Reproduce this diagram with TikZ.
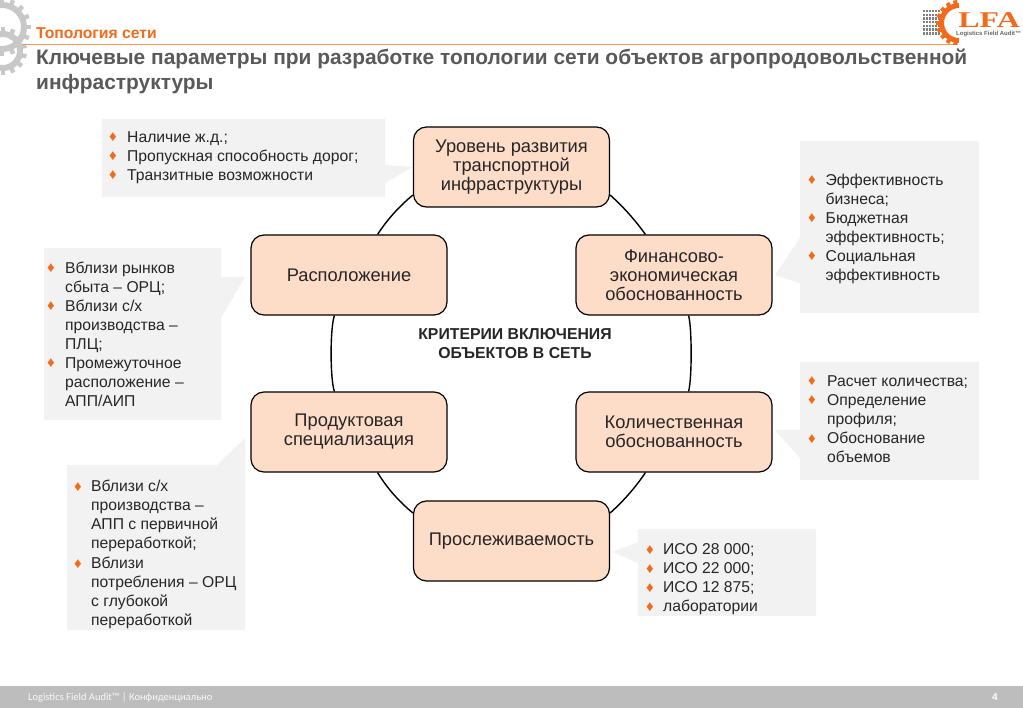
\documentclass[tikz,border=0pt]{standalone}
\usepackage{fontspec}
\setmainfont{Liberation Sans}
\newfontfamily\lfafont{Liberation Serif}
\newfontfamily\footfont{Carlito}
\definecolor{boxfill}{HTML}{FDDCC8}
\definecolor{callout}{HTML}{F2F2F2}
\definecolor{accent}{HTML}{F26A1B}
\definecolor{titlegray}{HTML}{595959}
\definecolor{geargray}{HTML}{C8C8C8}
\definecolor{barbg}{HTML}{BDBDBD}
\newcommand{\bul}{\textcolor{accent}{\fontsize{15}{15}\selectfont\char"2666}}
\tikzset{
  x=1pt,y=-1pt,
  critbox/.style={draw=black,line width=1.2pt,fill=boxfill,rounded corners=13pt,minimum width=196pt,minimum height=80pt,align=center,inner sep=0pt,font=\fontsize{18.3}{19}\selectfont,text=black!85},
  ringline/.style={draw=black,line width=1.4pt},
  calloutshape/.style={fill=callout,draw=none},
  bullettext/.style={anchor=north west,inner sep=0pt,align=left,font=\fontsize{15.7}{19}\selectfont,text=black!85},
}
\begin{document}
\begin{tikzpicture}
\useasboundingbox (0,0) rectangle (1023,708);
\fill[white] (0,0) rectangle (1023,708);
% gears
\begin{scope}
\clip (0,0) rectangle (1023,708);
\foreach \cx/\cy/\r/\n/\hole in {2/27/25/16/19, 3/51/20/14/14}{
  \fill[geargray,even odd rule] (\cx,\cy) circle (\r) (\cx,\cy) circle (\hole);
  \foreach \i in {1,...,\n}{
    \fill[geargray,rotate around={360/\n*\i:(\cx,\cy)}] (\cx-2.2,\cy-\r+1) rectangle (\cx+2.2,\cy-\r-4);
  }
}
\end{scope}
% header
\draw[accent!70,line width=0.8pt] (22,44) -- (958,44);
\node[anchor=base west,inner sep=0,font=\fontsize{15.7}{15.7}\selectfont\bfseries,text=accent] (sec) at (36,39) {Топология сети};
\node[anchor=north west,inner sep=0,align=left,font=\fontsize{20.9}{25}\selectfont\bfseries,text=titlegray] (ttl) at (36,49) {Ключевые параметры при разработке топологии сети объектов агропродовольственной\\инфраструктуры};
% LFA logo
\foreach \i in {0,...,5}{\foreach \j in {0,...,6}{
  \fill[black!50] (923+\i*2.9,10+\j*3.7) rectangle ++(2,2.4);
}}
\begin{scope}
\clip (930,0) rectangle (1023,45);
\draw[accent,line width=5pt] (959,5.5) arc (90:270:17.5pt);
\foreach \a in {10,30,...,170}{
  \fill[accent,rotate around={\a:(959,23)}] (957,0) rectangle (961,5);
}
\end{scope}
\node[anchor=base west,inner sep=0,xscale=1.42,transform shape,font=\fontsize{22.5}{22.5}\lfafont\bfseries,text=accent] (lfa) at (958,28) {LFA};
\node[anchor=base west,inner sep=0,font=\fontsize{6}{6}\selectfont\bfseries,text=black!60] (lfasub) at (956,35.5) {Logistics Field Audit™};
% callouts
\fill[calloutshape] (102,119) -- (385,119) -- (385,165) -- (413,167) -- (385,183) -- (385,197) -- (102,197) -- cycle;
\fill[calloutshape] (800,141) -- (979,141) -- (979,313) -- (800,313) -- (800,283) -- (775,275) -- (800,238) -- cycle;
\fill[calloutshape] (44,248) -- (221,248) -- (221,277) -- (245,277) -- (221,318) -- (221,420) -- (44,420) -- cycle;
\fill[calloutshape] (800,362) -- (979,362) -- (979,480) -- (800,480) -- (800,458) -- (775,430) -- (800,430) -- cycle;
\fill[calloutshape] (67,465) -- (217,465) -- (245,438) -- (245,630) -- (67,630) -- cycle;
\fill[calloutshape] (638,529) -- (816,529) -- (816,616) -- (638,616) -- (638,563) -- (613,552) -- (638,542) -- cycle;
% boxes
\node[critbox] (top) at (511.5,167) {Уровень развития\\транспортной\\инфраструктуры};
\node[critbox] (fin) at (674,275) {Финансово-\\экономическая\\обоснованность};
\node[critbox] (qty) at (674,432) {Количественная\\обоснованность};
\node[critbox] (trace) at (511.5,541) {Прослеживаемость};
\node[critbox] (prod) at (349,432) {Продуктовая\\специализация};
\node[critbox] (loc) at (349,275) {Расположение};
% ring
\draw[ringline] ([yshift=-28pt]top.east) .. controls (623,206.5) and (635,219.9) .. ([xshift=70pt]fin.north west);
\draw[ringline] ([xshift=-84pt]fin.south east) .. controls (692,328) and (692,379) .. ([xshift=-84pt]qty.north east);
\draw[ringline] ([xshift=70pt]qty.south west) .. controls (635,488.1) and (623,501.5) .. ([yshift=28pt]trace.east);
\draw[ringline] ([yshift=28pt]trace.west) .. controls (399,501.5) and (387,488.1) .. ([xshift=-70pt]prod.south east);
\draw[ringline] ([xshift=84pt]prod.north west) .. controls (330,379) and (330,328) .. ([xshift=84pt]loc.south west);
\draw[ringline] ([xshift=-70pt]loc.north east) .. controls (387,219.9) and (399,206.5) .. ([yshift=-28pt]top.west);
\node[align=center,inner sep=0,font=\fontsize{15.8}{19}\selectfont\bfseries,text=black!85] (centre) at (515,343.5) {КРИТЕРИИ ВКЛЮЧЕНИЯ\\ОБЪЕКТОВ В СЕТЬ};
% bullet texts: name / bullet x / text x / first baseline / text
\foreach \name/\bx/\tx/\ty/\txt in {
  a1/113/127/142/{Наличие ж.д.;},
  a2/113/127/161/{Пропускная способность дорог;},
  a3/113/127/180/{Транзитные возможности},
  b1/812/825.5/185/{Эффективность\\бизнеса;},
  b2/812/825.5/223/{Бюджетная\\эффективность;},
  b3/812/825.5/261/{Социальная\\эффективность},
  c1/51/65/273/{Вблизи рынков\\сбыта – ОРЦ;},
  c2/51/65/311/{Вблизи с/х\\производства –\\ПЛЦ;},
  c3/51/65/368/{Промежуточное\\расположение –\\АПП/АИП},
  d1/812/827/386/{Расчет количества;},
  d2/812/827/405/{Определение\\профиля;},
  d3/812/827/443/{Обоснование\\объемов},
  e1/78/91/491/{Вблизи с/х\\производства –\\АПП с первичной\\переработкой;},
  e2/78/91/568/{Вблизи\\потребления – ОРЦ\\с глубокой\\переработкой},
  f1/650/663/554/{ИСО 28 000;},
  f2/650/663/573/{ИСО 22 000;},
  f3/650/663/592/{ИСО 12 875;},
  f4/650/663/611/{лаборатории}%
}{
  \node[bullettext] (\name) at (\tx,\ty-12) {\rule{0pt}{12pt}\txt};
  \node[anchor=base,inner sep=0] (\name b) at (\bx,\ty) {\bul};
}
% footer
\fill[barbg] (0,686) rectangle (1023,708);
\node[anchor=base west,inner sep=0,font=\fontsize{10.5}{10.5}\footfont,text=white!90!barbg] (fl) at (28,700) {Logistics Field Audit™ | Конфиденциально};
\node[anchor=base east,inner sep=0,font=\fontsize{10}{10}\selectfont\bfseries,text=white] (fr) at (998,700) {4};
\end{tikzpicture}
\end{document}
